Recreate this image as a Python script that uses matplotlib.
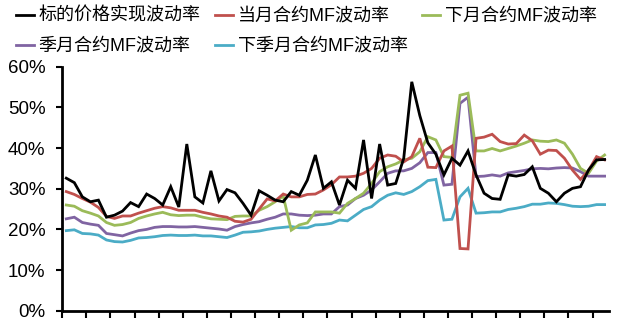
import numpy as np
import matplotlib
matplotlib.use('Agg')
import matplotlib.pyplot as plt
from matplotlib.ticker import FuncFormatter

plt.rcParams['font.family'] = ['Liberation Sans', 'Noto Sans CJK SC']

# weekly volatility series, in percent
realized = [32.6, 31.5, 28.0, 26.8, 27.2, 23.0, 23.5, 24.5, 26.6, 25.6,
            28.7, 27.6, 26.0, 30.5, 25.5, 41.0, 28.0, 26.5, 34.4, 27.0,
            29.8, 29.0, 26.4, 23.5, 29.5, 28.4, 27.2, 26.8, 29.3, 28.4,
            32.1, 38.3, 30.1, 31.7, 26.0, 32.1, 30.1, 42.0, 27.6, 41.0,
            30.9, 31.3, 37.5, 56.3, 48.0, 41.3, 38.5, 33.4, 37.5, 35.8,
            39.3, 33.4, 28.9, 27.6, 27.4, 33.4, 33.1, 33.5, 35.4, 30.1,
            28.9, 26.8, 28.9, 30.1, 30.5, 34.6, 37.1, 37.2]
cur_month = [29.3, 28.6, 27.6, 26.7, 25.4, 23.2, 22.7, 23.3, 23.3, 24.0,
             24.6, 25.2, 25.6, 25.3, 24.7, 24.7, 24.7, 24.2, 23.8, 23.3,
             23.0, 22.0, 21.8, 22.5, 25.0, 27.5, 27.0, 28.7, 28.0, 28.0,
             28.6, 28.7, 29.7, 31.0, 32.9, 32.9, 33.1, 33.8, 35.0, 37.5,
             38.3, 38.0, 36.6, 37.9, 42.4, 35.3, 35.2, 39.3, 40.5, 15.3,
             15.2, 42.4, 42.7, 43.4, 41.6, 41.0, 41.1, 43.2, 41.8, 38.5,
             39.5, 39.4, 37.5, 34.6, 32.3, 34.5, 37.9, 37.1]
next_month = [26.0, 25.7, 24.6, 24.0, 23.3, 21.7, 21.0, 21.2, 21.7, 22.7,
              23.3, 23.8, 24.2, 23.6, 23.4, 23.5, 23.5, 23.0, 22.6, 22.5,
              22.4, 23.2, 23.3, 23.3, 24.7, 25.6, 26.8, 28.2, 19.8, 21.1,
              21.6, 24.3, 24.3, 24.3, 24.0, 26.4, 27.6, 28.9, 31.3, 34.2,
              35.4, 36.1, 37.1, 37.5, 39.1, 42.8, 42.0, 37.9, 37.7, 53.0,
              53.5, 39.3, 39.3, 39.9, 39.3, 39.9, 40.5, 41.2, 42.0, 41.7,
              41.6, 42.0, 41.2, 38.5, 35.0, 33.8, 36.8, 38.3]
quarter = [22.6, 23.0, 21.7, 21.3, 21.0, 19.0, 18.7, 18.4, 19.1, 19.7,
           20.0, 20.5, 20.7, 20.7, 20.6, 20.6, 20.7, 20.5, 20.3, 20.1,
           19.8, 20.7, 21.2, 21.6, 21.9, 22.5, 23.0, 23.8, 23.8, 23.5,
           23.4, 23.5, 23.8, 23.8, 25.6, 26.0, 27.6, 28.4, 29.7, 31.7,
           33.8, 34.4, 34.4, 35.0, 36.4, 38.9, 38.9, 30.9, 31.1, 51.0,
           52.5, 33.0, 33.1, 33.4, 33.1, 33.9, 34.2, 34.5, 34.9, 35.0,
           34.9, 35.1, 35.2, 35.1, 34.2, 33.1, 33.1, 33.1]
next_quarter = [19.7, 19.9, 19.0, 18.9, 18.6, 17.4, 17.0, 16.9, 17.3, 17.9,
                18.0, 18.2, 18.5, 18.6, 18.5, 18.5, 18.6, 18.4, 18.4, 18.2,
                18.0, 18.6, 19.3, 19.4, 19.6, 20.0, 20.3, 20.5, 20.7, 20.4,
                20.4, 21.1, 21.2, 21.5, 22.3, 22.1, 23.5, 24.9, 25.6, 27.2,
                28.4, 29.0, 28.6, 29.3, 30.5, 32.0, 32.3, 22.3, 22.5, 28.0,
                30.1, 24.0, 24.1, 24.3, 24.3, 24.9, 25.2, 25.6, 26.2, 26.2,
                26.5, 26.4, 26.1, 25.7, 25.6, 25.7, 26.1, 26.1]

labels = ['标的价格实现波动率', '当月合约MF波动率', '下月合约MF波动率',
          '季月合约MF波动率', '下季月合约MF波动率']
colors = ['#000000', '#C0504D', '#9BBB59', '#8064A2', '#4BACC6']
series = [realized, cur_month, next_month, quarter, next_quarter]

fig = plt.figure(figsize=(6.42, 3.27), dpi=100)
ax = fig.add_axes([0.097, 0.0498, 0.851, 0.746])

x = np.arange(len(realized)) + 0.5
# draw back to front so the realized vol sits on top
for vals, c, lab in reversed(list(zip(series, colors, labels))):
    ax.plot(x, vals, color=c, lw=2.0, label=lab, solid_joinstyle='miter')

ax.set_xlim(0, len(realized))
ax.set_ylim(0, 60)
ax.set_xticks(np.arange(0, len(realized) - 1, 3))
ax.set_xticklabels([])
ax.set_yticks(np.arange(0, 61, 10))
ax.yaxis.set_major_formatter(FuncFormatter(lambda v, p: '%d%%' % v))
ax.tick_params(axis='y', direction='out', length=4, width=1.5, pad=8,
               labelsize=13.5)
ax.tick_params(axis='x', direction='out', length=5, width=1.5)
for s in ['top', 'right']:
    ax.spines[s].set_visible(False)
for s in ['left', 'bottom']:
    ax.spines[s].set_linewidth(2)

# legend fills column by column, so interleave to get rows of three
handles, labs = ax.get_legend_handles_labels()
by_label = dict(zip(labs, handles))
leg_order = [labels[i] for i in [0, 3, 1, 4, 2]]
fig.legend([by_label[l] for l in leg_order], leg_order,
           loc='upper left', bbox_to_anchor=(0.022, 0.982), ncol=3,
           frameon=False, fontsize=13, handlelength=1.0,
           handletextpad=0.25, columnspacing=0.8, labelspacing=0.72,
           borderaxespad=0, borderpad=0.1)

fig.savefig('out.png', dpi=100)
